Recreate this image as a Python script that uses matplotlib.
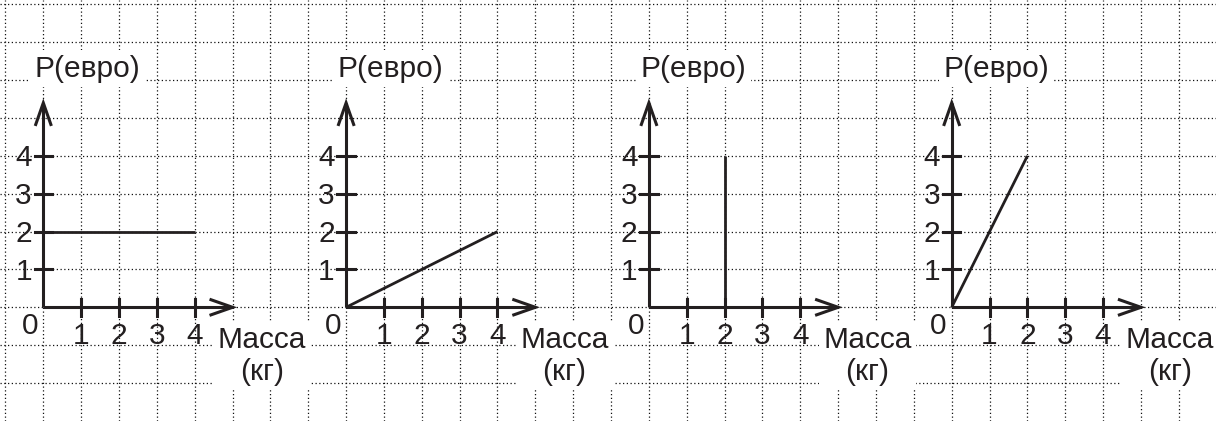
import matplotlib
matplotlib.use("Agg")
import matplotlib.pyplot as plt

# ---- data (local panel coordinates: mass in kg, price in euro) ----
panel_mass = [[0, 4], [0, 4], [2, 2], [0, 2]]
panel_price = [[2, 2], [0, 2], [0, 4], [0, 4]]
tick_values = [1, 2, 3, 4]
tick_labels = ["1", "2", "3", "4"]
y_label = "P(евро)"
x_label = "Масса\n(кг)"
origin_label = "0"

# ---- layout (grid units) ----
panel_offsets = [0, 8, 16, 24]
x_arrow_end = 5.0
y_arrow_end = 5.4
head_len, head_w = 0.57, 0.2
tick_half = 0.23

W, H = 1216, 421
cell = 37.85
ox, oy = 43.3, 307.3

plt.rcParams["font.family"] = ["Liberation Sans", "DejaVu Sans"]
ink = "#231f20"
fs = 21.5

fig = plt.figure(figsize=(W / 100, H / 100), dpi=100)
ax = fig.add_axes([0, 0, 1, 1])
ax.set_xlim(-ox / cell, (W - ox) / cell)
ax.set_ylim(-(H - oy) / cell, oy / cell)
ax.set_xticks(range(-1, 31))
ax.set_yticks(range(-2, 9))
ax.tick_params(length=0, labelbottom=False, labelleft=False)
for s in ax.spines.values():
    s.set_visible(False)
ax.set_axisbelow(True)
ax.grid(True, linestyle=(0, (1, 2)), color="#111111", linewidth=0.9)

alw = 2.2
for off, xs, ys in zip(panel_offsets, panel_mass, panel_price):
    # axes
    ax.plot([off, off + x_arrow_end], [0, 0], color=ink, lw=alw, zorder=5,
            solid_capstyle="butt")
    ax.plot([off, off], [0, y_arrow_end], color=ink, lw=alw, zorder=5,
            solid_capstyle="butt")
    # arrow heads (open chevrons)
    ax.plot([off + x_arrow_end - head_len, off + x_arrow_end, off + x_arrow_end - head_len],
            [head_w, 0, -head_w], color=ink, lw=alw, zorder=5,
            solid_joinstyle="miter")
    ax.plot([off - head_w, off, off + head_w],
            [y_arrow_end - head_len, y_arrow_end, y_arrow_end - head_len],
            color=ink, lw=alw, zorder=5, solid_joinstyle="miter")
    # ticks
    for v, lab in zip(tick_values, tick_labels):
        ax.plot([off + v, off + v], [-tick_half, tick_half], color=ink, lw=alw, zorder=5)
        ax.plot([off - tick_half, off + tick_half], [v, v], color=ink, lw=alw, zorder=5)
        ax.text(off + v, -0.96, lab, ha="center", va="baseline", fontsize=fs, color=ink)
        ax.text(off - 0.3, v - 0.27, lab, ha="right", va="baseline", fontsize=fs, color=ink)
    ax.text(off - 0.35, -0.71, origin_label, ha="center", va="baseline", fontsize=fs, color=ink)
    # data line
    ax.plot([off + x for x in xs], ys, color=ink, lw=2.0, zorder=6,
            solid_capstyle="butt")
    # labels
    ax.text(off - 0.22, 6.09, y_label, ha="left", va="baseline", fontsize=fs,
            color=ink, zorder=4,
            bbox=dict(boxstyle="square,pad=0.15", fc="white", ec="none"))
    ax.text(off + 5.77, -1.92, x_label, ha="center", va="baseline", fontsize=fs,
            color=ink, zorder=4, multialignment="center", linespacing=1.2,
            bbox=dict(boxstyle="square,pad=0.15", fc="white", ec="none"))

fig.savefig("out.png", dpi=100)
